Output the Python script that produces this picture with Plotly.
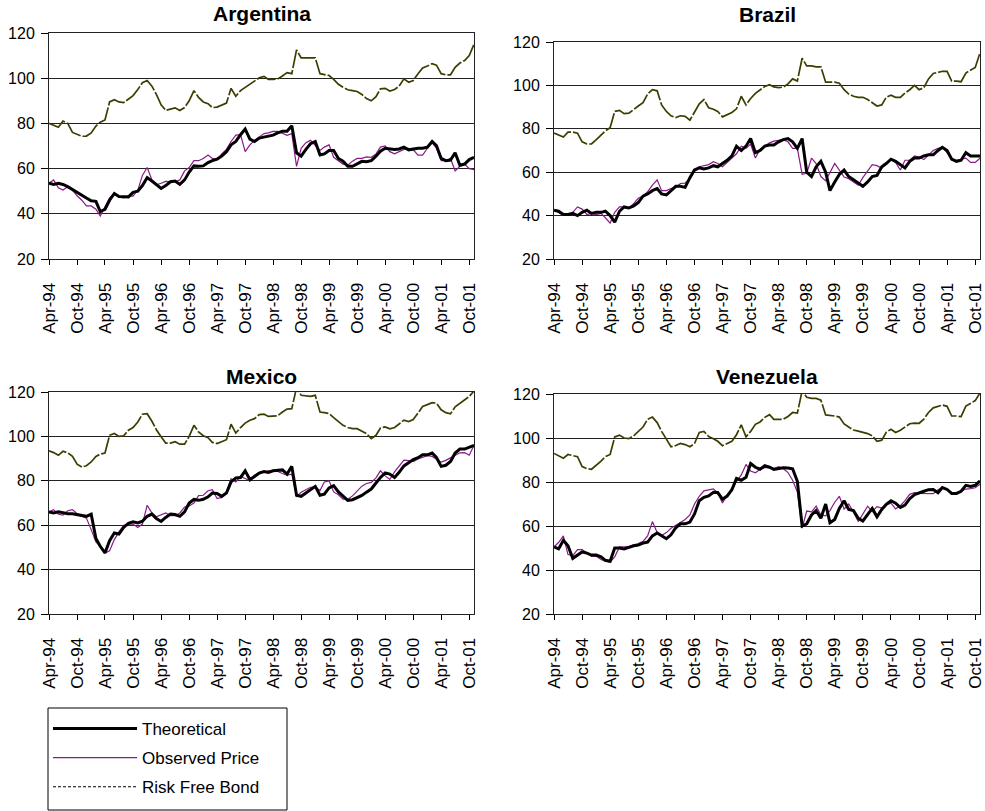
import plotly.graph_objects as go
import pandas as pd

# ---------------- data ----------------
months = pd.date_range("1994-04-01", periods=92, freq="MS")
tick_labels = ["Apr-94", "Oct-94", "Apr-95", "Oct-95", "Apr-96", "Oct-96", "Apr-97", "Oct-97",
               "Apr-98", "Oct-98", "Apr-99", "Oct-99", "Apr-00", "Oct-00", "Apr-01", "Oct-01"]
tick_dates = list(months[::6])

countries = ["Argentina", "Brazil", "Mexico", "Venezuela"]
series_names = ["Theoretical", "Observed Price", "Risk Free Bond"]

arg_theoretical = [53.5, 53, 53.5, 53, 52, 50.7, 49.2, 48, 47, 45.8, 45.5, 41,
                   42, 46, 49, 47.7, 47.5, 47.5, 49.5, 50, 52.5, 56, 54.5, 53,
                   51.2, 52.5, 54.2, 54.5, 53, 55, 58.5, 61.2, 61, 61.2, 62.7, 63.5,
                   64.2, 65.5, 67.5, 70.5, 72, 75, 77.5, 73, 72, 73.5, 74, 74.2,
                   74.8, 75.8, 76.5, 76.5, 79, 67, 65.5, 68.5, 71, 72, 66, 66.5,
                   68, 68, 64.5, 63.3, 61, 61, 62.2, 63.2, 63, 63.5, 65.5, 67.7,
                   69, 68.8, 68.5, 68.7, 69.5, 68.3, 68.8, 69, 69, 69.5, 72, 70.2,
                   64.5, 63.5, 63.8, 67, 61.5, 62, 64, 65]
arg_observed = [53.5, 55, 51.5, 50.5, 52, 50.5, 48, 46, 43.5, 43.5, 42, 39,
                43, 47, 49, 47.5, 47, 47.8, 47.8, 50.5, 57, 60.5, 55, 52.8,
                53.5, 54.3, 54.2, 54.2, 55, 59, 60.5, 63.5, 63.5, 64.5, 66, 64.5,
                64, 66.5, 68.5, 72, 74.8, 75, 67.5, 70.5, 72.5, 74, 75.5, 75.8,
                76.5, 76.5, 75.5, 74.7, 75.5, 61, 69, 71.5, 72.5, 70, 68, 69.5,
                70.5, 65, 63.5, 62, 61.5, 63.3, 64.5, 64.5, 65.2, 65, 66.5, 69.5,
                70, 67.5, 66.5, 67.5, 68.5, 69, 68.3, 66, 66, 69, 71.5, 69,
                63.5, 63.5, 64.5, 59, 61, 62, 60, 59.5]
arg_riskfree = [80, 79.2, 78.3, 81, 80, 76, 75.2, 74.3, 74.4, 75.8, 78.8, 80.5,
                81.5, 89.5, 90.5, 89.5, 89.2, 90.8, 92.3, 95, 98, 99, 96.5, 92.8,
                88.2, 85.8, 86.3, 86.9, 85.7, 87, 90, 94.5, 91.5, 89.5, 88.7, 87,
                87.2, 88, 89, 95.5, 92, 94.5, 96, 97.5, 98.9, 100.2, 100.8, 99.5,
                99.5, 99.7, 101, 102.5, 102, 112.5, 109, 109, 109, 109, 102, 101.6,
                101.2, 99.5, 97.3, 96, 94.9, 94.5, 94.1, 92.8, 91, 90, 91.8, 95.3,
                95.5, 94.3, 95, 96.5, 99.7, 98.2, 99, 102, 104.5, 105.4, 106.4, 105.8,
                102, 101.5, 101.5, 104.8, 106.7, 107.8, 110, 115]

bra_theoretical = [42.5, 42, 40.5, 40.5, 41, 40, 41.5, 42.5, 41, 41.5, 41.5, 42,
                   40, 37, 42, 44, 43.5, 44.5, 46, 49, 50, 51.5, 52.5, 50,
                   49.5, 51.5, 53.5, 53.5, 53, 57.5, 61, 62, 61.5, 62, 63, 62.5,
                   64, 65.5, 67.5, 72, 70, 72, 75.5, 69, 70, 72, 72.5, 72.5,
                   74, 75, 75.5, 74, 71, 75.5, 60, 58, 62.5, 65, 60, 51.5,
                   55.5, 59, 61, 58, 56.5, 55, 53.5, 55.5, 58, 58.5, 62.5, 64,
                   66, 65, 63.5, 62, 65, 66.5, 66.5, 67.5, 68, 68, 70, 71.5,
                   70, 66, 65, 65.5, 69, 67.5, 67.5, 67.5]
bra_observed = [42.5, 41.3, 40.2, 40.2, 41.5, 44, 43, 40.5, 41, 40.5, 41, 39,
                36.5, 41.5, 44, 44, 43.5, 45.5, 48, 49, 51, 54, 56.5, 51.5,
                51.5, 52.5, 53, 54.8, 55, 57, 60.5, 62.5, 63, 63.5, 64.8, 64,
                62.5, 64.5, 66.5, 68.5, 72, 71, 73, 66.5, 70.5, 72, 73.5, 74.3,
                74.8, 75, 74, 71, 71, 59, 59.5, 66.5, 64, 58, 56, 59.5,
                64, 61, 57.8, 57, 55.5, 54, 57.5, 60.5, 63.5, 63, 61.8, 64,
                65.8, 64.5, 61, 65.5, 65.5, 67.5, 67, 65.8, 68, 70, 71, 71.5,
                69, 65.5, 65.5, 66, 66.5, 64.5, 64.5, 66.5]
bra_riskfree = [78, 77, 76.2, 78.5, 78.5, 78, 74, 73, 73, 75, 77, 79,
                80.5, 88, 88.5, 87, 87.2, 89, 90.5, 92, 96, 98, 97.5, 91,
                88, 86, 85.2, 86, 85.7, 84, 87.5, 91.5, 93.5, 89.7, 89, 88,
                85.5, 86.6, 87.5, 89.2, 95, 91, 94, 96.3, 97.8, 99.5, 100.3, 99.3,
                99, 99.2, 100.7, 103, 102, 112.5, 109, 109, 108.5, 108.5, 101.5, 101.5,
                101.5, 101, 98, 96, 95, 94.5, 94.5, 93.5, 92, 90.5, 91, 94.5,
                95.5, 94.5, 94.5, 96.5, 98, 100, 98, 99, 103, 105.5, 106, 106.5,
                106.5, 102, 102, 101.7, 105.7, 107, 108.3, 115]

mex_theoretical = [66, 65.5, 66, 65.5, 65.2, 65.2, 64.8, 64.2, 64, 65, 54, 50.5,
                   47.5, 53, 56.5, 56, 59, 60.8, 61.5, 61, 61.8, 64, 65, 63,
                   61.7, 63.5, 65, 64.8, 64, 66, 70, 71.6, 71.2, 71.7, 72.8, 74.5,
                   74.3, 73, 74.5, 79.5, 81.3, 81.5, 84.5, 80.5, 81.8, 83.5, 84.2, 83.8,
                   84.5, 84.6, 84.9, 83, 86.5, 73.5, 73, 74.5, 75.8, 77.5, 73.5, 74,
                   76.8, 77.8, 75, 73, 71.2, 71.5, 72.5, 73.4, 74.9, 76.3, 79, 81.5,
                   83.6, 83, 81.5, 83.8, 86.7, 88.2, 89.6, 90.4, 91.7, 91.7, 92.5, 90.5,
                   86.5, 87, 88.7, 92.5, 94.3, 94.3, 95.2, 96]
mex_observed = [66, 67, 65, 64.5, 66.5, 67, 65.2, 64, 63.2, 58, 52.5, 50.5,
                47.5, 48.5, 53.5, 57, 60, 60.5, 60.5, 59, 60.5, 69, 65.5, 63.8,
                64.8, 65.5, 64.3, 64.3, 65.5, 68.2, 68.7, 70, 73.3, 73.5, 75.5, 76,
                72, 72.5, 75, 81, 79.5, 82, 81, 80, 82.5, 83.8, 84, 84.5,
                84.5, 84.2, 83.3, 82.6, 83, 73, 74.8, 75.9, 77.1, 77.3, 75.6, 79.5,
                80, 75, 73.7, 71.7, 71.7, 73.2, 75.3, 77.6, 78.8, 79.3, 81.3, 84.5,
                82.2, 80.6, 84, 86.8, 89.3, 89.1, 88.6, 89.8, 90.7, 91.3, 91, 89.8,
                88.4, 89.2, 90.4, 91.7, 92.6, 92.7, 91.5, 96]
mex_riskfree = [93.5, 92.7, 91.5, 93.3, 92.6, 91, 87.5, 86.2, 86.8, 88.5, 91, 92,
                92.5, 100.5, 101.3, 100, 100.3, 102.8, 104, 106.5, 110, 110.2, 106.8, 103,
                99.8, 97, 97, 97.6, 96.5, 96.5, 100, 105, 102, 100.3, 99.4, 97.3,
                96.8, 97.7, 98.5, 105.5, 101.5, 104, 106, 107.3, 108, 109.8, 110, 109,
                109, 109.3, 111, 112.3, 112.5, 122, 118.5, 118.3, 118, 118.5, 111, 110.7,
                110.3, 108.5, 106.8, 105, 104, 103.5, 103.5, 102.3, 101.3, 99, 100.5, 103.8,
                104.3, 103.4, 104, 105.6, 107.3, 106.7, 107.6, 110.5, 113.5, 114.3, 115.2, 115,
                112, 110.7, 110.2, 113.3, 115, 116.3, 118, 120.5]

ven_theoretical = [50.5, 49.6, 53.5, 51, 45.3, 46.8, 48.2, 47.7, 46.8, 46.8, 46, 44.4,
                   44, 50, 50, 49.6, 50.4, 51, 51.3, 52.2, 52.7, 55.5, 56.8, 55.5,
                   54.2, 56, 59.2, 61, 61, 61.8, 65.5, 71.5, 73, 73.7, 75.3, 75.2,
                   72.2, 73.6, 76.5, 81.6, 80.8, 82.2, 88.4, 86.7, 85.8, 87.4, 86.7, 85.7,
                   86.2, 86.5, 86.4, 86, 80.3, 60, 61, 65, 67, 63.5, 70, 61.5,
                   63, 68, 71.5, 67.5, 67, 63.5, 62.3, 65.5, 68, 64.2, 67.5, 69.8,
                   71.5, 70.4, 68.4, 69.5, 72.4, 74.3, 75.2, 75.8, 76.5, 76.6, 75.1, 77.5,
                   76.6, 74.8, 74.8, 75.8, 78.5, 78, 78.5, 80.5]
ven_observed = [50.5, 52.5, 55.5, 47, 46.5, 49.3, 49.3, 47.5, 46.2, 46.2, 44.8, 44,
                43.6, 46, 50.5, 50.5, 50.6, 51.5, 52, 53, 55.5, 62, 57, 55.7,
                57, 59, 60.5, 61.6, 63, 65, 70, 73.5, 76, 76.3, 76.9, 75,
                70.5, 74, 76.7, 80.2, 83.2, 88, 85, 84.2, 85.8, 86.5, 86.5, 86.1,
                87, 86.1, 84.3, 80.8, 75.5, 59, 66.8, 66.4, 69, 65, 64.6, 67,
                70.8, 73.5, 67.7, 70, 66.4, 62, 65.5, 69, 66.5, 68.8, 68.1, 69.6,
                70.4, 67.8, 69.2, 71.5, 74.4, 75.2, 74.8, 74.8, 74.8, 74.7, 76.5, 77.5,
                76.6, 74.8, 74.9, 75.8, 76.8, 77, 77.4, 79]
ven_riskfree = [93, 91.8, 90.8, 92.5, 92, 91.5, 87, 86.1, 85.8, 87.5, 89.5, 91.5,
                92.5, 100.5, 101.3, 100, 99.7, 101, 103, 105, 108.5, 109.5, 107, 103,
                99.5, 96, 96.6, 97.5, 97, 96, 97.5, 102.5, 103, 100.7, 99.7, 98.5,
                96.5, 97.4, 98.5, 101.5, 106, 100.5, 103, 106.2, 107.3, 109.4, 110.6, 108.5,
                108.5, 108.5, 109.8, 111.6, 111.3, 121.5, 118.5, 118, 118, 117.2, 110.5, 110.3,
                110, 109.5, 106.4, 105, 103.6, 103.1, 102.5, 102, 101, 98.5, 99, 102.6,
                104, 102.5, 103.5, 105, 106.5, 106.8, 106.7, 108.6, 111.6, 113.7, 114.4, 115,
                114.4, 110, 110, 109.7, 114.5, 115.8, 117, 120.5]

data = {
    "Argentina": (arg_theoretical, arg_observed, arg_riskfree),
    "Brazil": (bra_theoretical, bra_observed, bra_riskfree),
    "Mexico": (mex_theoretical, mex_observed, mex_riskfree),
    "Venezuela": (ven_theoretical, ven_observed, ven_riskfree),
}

# ---------------- layout geometry ----------------
W, H = 985, 811
FONT = "Liberation Sans, Arial, sans-serif"
domains = {
    "Argentina": ((49, 474), (33, 259), 13),
    "Brazil": ((554, 980), (42, 259), 15),
    "Mexico": ((49, 474), (392, 614), 376),
    "Venezuela": ((554, 980), (394, 614), 376),
}

THEO_COLOR = "#000000"
OBS_COLOR = "#8a1a8a"
RF_COLOR = "#3d3d00"

fig = go.Figure()
layout = dict(
    width=W, height=H, margin=dict(l=0, r=0, t=0, b=0, pad=0, autoexpand=False),
    paper_bgcolor="white", plot_bgcolor="white",
    font=dict(family=FONT, size=16, color="black"),
    showlegend=True,
    annotations=[],
    shapes=[],
)

for i, c in enumerate(countries):
    n = "" if i == 0 else str(i + 1)
    xa, ya = "x" + n, "y" + n
    theo, obs, rf = data[c]
    fig.add_trace(go.Scatter(x=months, y=rf, xaxis=xa, yaxis=ya, mode="lines",
                             line=dict(color=RF_COLOR, width=1.7, dash="20px,2px"),
                             showlegend=False, cliponaxis=False))
    fig.add_trace(go.Scatter(x=months, y=obs, xaxis=xa, yaxis=ya, mode="lines",
                             line=dict(color=OBS_COLOR, width=1.2),
                             showlegend=False))
    fig.add_trace(go.Scatter(x=months, y=theo, xaxis=xa, yaxis=ya, mode="lines",
                             line=dict(color=THEO_COLOR, width=3),
                             showlegend=False))
    (x0, x1), (y0, y1), ty = domains[c]
    layout["xaxis" + n] = dict(
        domain=[x0 / W, x1 / W], anchor=ya, type="date",
        range=[months[0], months[-1]],
        tickmode="array", tickvals=tick_dates, ticktext=tick_labels,
        tickangle=-90, ticks="outside", ticklen=5, tickcolor="black",
        ticklabelstandoff=11,
        showline=True, mirror=True, linecolor="#222", linewidth=1,
        showgrid=False, zeroline=False, automargin=False,
        tickfont=dict(family=FONT, size=17, color="black"),
    )
    layout["yaxis" + n] = dict(
        domain=[1 - y1 / H, 1 - y0 / H], anchor=xa,
        range=[20, 120], tickmode="linear", tick0=20, dtick=20,
        ticks="outside", ticklen=7, tickcolor="black",
        ticklabelstandoff=3,
        showline=True, mirror=True, linecolor="#222", linewidth=1,
        showgrid=True, gridcolor="#222", gridwidth=1, zeroline=False, automargin=False,
        tickfont=dict(family=FONT, size=16, color="black"),
    )
    layout["annotations"].append(dict(
        text="<b>" + c + "</b>", xref="paper", yref="paper",
        x=(x0 + x1) / 2 / W, y=1 - ty / H, xanchor="center", yanchor="middle",
        showarrow=False, font=dict(family=FONT, size=21, color="black"),
    ))

# legend-only entries
legend_styles = [
    dict(color="black", width=3),
    dict(color=OBS_COLOR, width=1.2),
    dict(color="black", width=1, dash="3px,2px"),
]
for name, st in zip(series_names, legend_styles):
    fig.add_trace(go.Scatter(x=[None], y=[None], mode="lines", name=name,
                             line=st, showlegend=True, legendgroup=name))

# legend frame (drawn as a shape so its size matches the original box)
layout["shapes"].append(dict(
    type="rect", xref="paper", yref="paper",
    x0=48 / W, x1=287 / W, y0=1 - 810 / H, y1=1 - 708 / H,
    line=dict(color="black", width=1), fillcolor="rgba(0,0,0,0)", layer="below",
))
layout["legend"] = dict(
    x=48 / W, y=1 - 711 / H, xanchor="left", yanchor="top",
    borderwidth=0, bgcolor="rgba(0,0,0,0)",
    font=dict(family=FONT, size=17, color="black"),
    itemwidth=84, tracegroupgap=4, traceorder="grouped",
)
fig.update_layout(**layout)
fig.write_html("out.html")
